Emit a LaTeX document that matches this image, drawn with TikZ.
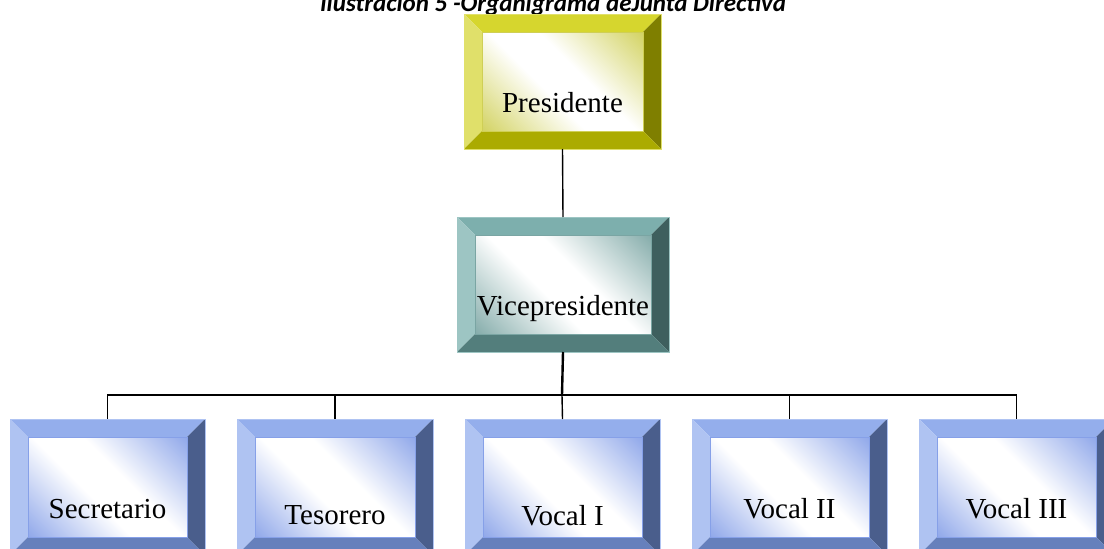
\documentclass[tikz,border=0pt]{standalone}
\usepackage{fontspec}
\setmainfont{Liberation Serif}
\newfontfamily\titlefont{Carlito}
\usetikzlibrary{calc}

\definecolor{ytop}{HTML}{D6D62E}
\definecolor{yleft}{HTML}{E0E06A}
\definecolor{yright}{HTML}{7F7F00}
\definecolor{ybot}{HTML}{ABAB00}
\definecolor{yin}{HTML}{CFCF55}
\definecolor{ttop}{HTML}{7DAFAD}
\definecolor{tleft}{HTML}{9DC5C3}
\definecolor{tright}{HTML}{3E5F5E}
\definecolor{tbot}{HTML}{537E7C}
\definecolor{tin}{HTML}{7AA5A3}
\definecolor{btop}{HTML}{94AEEC}
\definecolor{bleft}{HTML}{AFC3F2}
\definecolor{bright}{HTML}{4A5E8C}
\definecolor{bbot}{HTML}{6680BC}
\definecolor{bin}{HTML}{86A0E8}

\pgfdeclareverticalshading{yshade}{100bp}{color(0bp)=(yin); color(12bp)=(yin); color(43bp)=(white); color(57bp)=(white); color(88bp)=(yin); color(100bp)=(yin)}
\pgfdeclareverticalshading{tshade}{100bp}{color(0bp)=(tin); color(12bp)=(tin); color(43bp)=(white); color(57bp)=(white); color(88bp)=(tin); color(100bp)=(tin)}
\pgfdeclareverticalshading{bshade}{100bp}{color(0bp)=(bin); color(12bp)=(bin); color(43bp)=(white); color(57bp)=(white); color(88bp)=(bin); color(100bp)=(bin)}

\tikzset{
  boxnode/.style={rectangle, inner sep=0pt, outer sep=0pt},
  lbl/.style={font=\fontsize{29}{33}\selectfont, text=black, inner sep=0pt, anchor=base},
  conn/.style={draw=black, line width=1.4pt},
  connthick/.style={draw=black, line width=2.4pt},
}

% \bevelbox{name}{x0}{y0}{x1}{y1}{scheme letter}{text}{baseline y}
\newcommand\bevelbox[8]{%
  \pgfmathsetmacro\bxa{#2}\pgfmathsetmacro\bya{#3}%
  \pgfmathsetmacro\bxb{#4}\pgfmathsetmacro\byb{#5}%
  \pgfmathsetmacro\ixa{#2+18}\pgfmathsetmacro\iya{#3+18}%
  \pgfmathsetmacro\ixb{#4-18}\pgfmathsetmacro\iyb{#5-18}%
  \pgfmathsetmacro\bcx{(#2+#4)/2}\pgfmathsetmacro\bcy{(#3+#5)/2}%
  \pgfmathsetmacro\bw{#4-#2}\pgfmathsetmacro\bh{#5-#3}%
  \node[boxnode, minimum width=\bw pt, minimum height=\bh pt] (#1) at (\bcx,\bcy) {};
  \fill[#6top] (\bxa,\bya) -- (\bxb,\bya) -- (\ixb,\iya) -- (\ixa,\iya) -- cycle;
  \fill[#6left] (\bxa,\bya) -- (\ixa,\iya) -- (\ixa,\iyb) -- (\bxa,\byb) -- cycle;
  \fill[#6right] (\bxb,\bya) -- (\bxb,\byb) -- (\ixb,\iyb) -- (\ixb,\iya) -- cycle;
  \fill[#6bot] (\bxa,\byb) -- (\ixa,\iyb) -- (\ixb,\iyb) -- (\bxb,\byb) -- cycle;
  \shade[shading=#6shade, shading angle=-45] (\ixa,\iya) rectangle (\ixb,\iyb);
  \draw[#6in, line width=0.8pt] (\ixa,\iya) rectangle (\ixb,\iyb);
  \draw[#6left, line width=0.8pt] (\bxa,\bya) rectangle (\bxb,\byb);
  \node[lbl] (#1-t) at (\bcx,#8) {#7};
}

\begin{document}
\begin{tikzpicture}[x=1pt, y=-1pt]
\useasboundingbox (0,0) rectangle (1104,549);

\node[font=\titlefont\bfseries\itshape\fontsize{25}{28}\selectfont, anchor=base, inner sep=0pt] (title) at (553,11) {Ilustración 5 -Organigrama deJunta Directiva};

\bevelbox{pres}{464}{14}{661}{149}{y}{Presidente}{112}
\bevelbox{vice}{457}{217}{669}{352}{t}{Vicepresidente}{315}
\bevelbox{sec}{10}{419}{205}{555}{b}{Secretario}{518}
\bevelbox{tes}{237}{419}{433}{555}{b}{Tesorero}{524}
\bevelbox{vi}{465}{419}{660}{555}{b}{Vocal I}{525}
\bevelbox{vii}{692}{419}{887}{555}{b}{Vocal II}{518}
\bevelbox{viii}{919}{419}{1114}{555}{b}{Vocal III}{518}

\coordinate (bus) at (562,395);
\draw[conn] (pres.south) -- (vice.north);
\draw[connthick] (vice.south) -- (bus);
\draw[conn] (bus) -| (sec.north);
\draw[conn] (bus) -| (tes.north);
\draw[conn] (bus) -- (vi.north);
\draw[conn] (bus) -| (vii.north);
\draw[conn] (bus) -| (viii.north);
\end{tikzpicture}
\end{document}
